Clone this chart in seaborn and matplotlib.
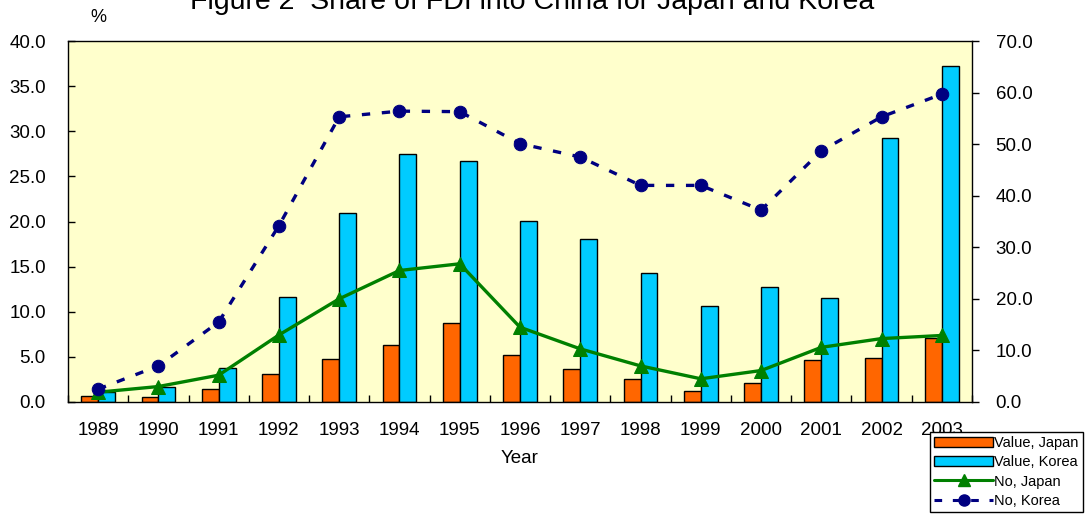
import numpy as np
import pandas as pd
import matplotlib
matplotlib.use('Agg')
import matplotlib.pyplot as plt
import seaborn as sns
from matplotlib.patches import Patch
from matplotlib.lines import Line2D

# data
years = ['1989', '1990', '1991', '1992', '1993', '1994', '1995', '1996',
         '1997', '1998', '1999', '2000', '2001', '2002', '2003']
value_japan = [0.7, 0.6, 1.4, 3.1, 4.8, 6.3, 8.8, 5.2, 3.7, 2.6, 1.2, 2.1, 4.6, 4.9, 7.1]
value_korea = [1.1, 1.7, 3.8, 11.6, 20.9, 27.5, 26.7, 20.1, 18.1, 14.3, 10.6, 12.7, 11.5, 29.3, 37.2]
no_japan = [1.9, 3.0, 5.2, 13.0, 20.0, 25.5, 26.8, 14.5, 10.3, 7.0, 4.5, 6.1, 10.6, 12.3, 12.9]
no_korea = [2.5, 7.0, 15.5, 34.2, 55.3, 56.4, 56.3, 50.1, 47.5, 42.0, 42.0, 37.2, 48.7, 55.3, 59.7]

left_ticks = [0, 5, 10, 15, 20, 25, 30, 35, 40]
right_ticks = [0, 10, 20, 30, 40, 50, 60, 70]

orange = '#FF6600'
cyan = '#00CCFF'
green = '#008000'
navy = '#000080'

sns.set_style('white')
plt.rcParams['font.family'] = ['Liberation Sans', 'DejaVu Sans']
plt.rcParams['text.color'] = 'black'
plt.rcParams['axes.labelcolor'] = 'black'
plt.rcParams['xtick.color'] = 'black'
plt.rcParams['ytick.color'] = 'black'

bars = pd.DataFrame({
    'Year': years * 2,
    'Value': value_japan + value_korea,
    'Country': ['Japan'] * len(years) + ['Korea'] * len(years),
})

fig, ax = plt.subplots(figsize=(10.88, 5.15), dpi=100)
plt.subplots_adjust(left=68/1088, right=972/1088, top=1-41/515, bottom=1-402/515)

# bars on the left axis
sns.barplot(data=bars, x='Year', y='Value', hue='Country', order=years,
            hue_order=['Japan', 'Korea'], palette={'Japan': orange, 'Korea': cyan},
            saturation=1, width=0.56, edgecolor='black', linewidth=1.0, ax=ax, legend=False)
ax.set_facecolor('#FFFFCC')
ax.set_ylim(0, 40)
ax.set_yticks(left_ticks)
ax.set_yticklabels(['%.1f' % t for t in left_ticks])
ax.set_xlim(-0.5, len(years) - 0.5)
ax.set_xlabel('Year', fontsize=13.5, labelpad=8)
ax.set_ylabel('')
ax.tick_params(axis='x', which='major', length=0, pad=14.5, labelsize=13.5)
ax.set_xticks(np.arange(len(years) + 1) - 0.5, minor=True)
ax.tick_params(axis='x', which='minor', direction='in', length=5, width=1, bottom=True)
ax.tick_params(axis='y', direction='in', length=5, width=1, pad=16, labelsize=13.5, left=True)
for s in ax.spines.values():
    s.set_color('black')
    s.set_linewidth(1.0)

# lines on the right axis
ax2 = ax.twinx()
pos = np.arange(len(years))
sns.lineplot(x=pos, y=no_japan, ax=ax2, color=green, linewidth=2.4, marker='^',
             markersize=10, markeredgecolor=green)
sns.lineplot(x=pos, y=no_korea, ax=ax2, color=navy, linewidth=2.4, linestyle=(0, (2.5, 3.5)),
             marker='o', markersize=9, markeredgecolor=navy)
ax2.set_ylim(0, 70)
ax2.set_yticks(right_ticks)
ax2.set_yticklabels(['%.1f' % t for t in right_ticks])
ax2.tick_params(axis='y', direction='out', length=5, width=1, pad=12, labelsize=13.5, right=True)
for s in ax2.spines.values():
    s.set_visible(False)

fig.text(532/1088, 1 - 9/515, 'Figure 2  Share of FDI into China for Japan and Korea',
         ha='center', va='baseline', fontsize=20.5)
fig.text(98/1088, 1 - 17/515, '%', ha='center', va='center', fontsize=13)

handles = [
    Patch(facecolor=orange, edgecolor='black', linewidth=1.0),
    Patch(facecolor=cyan, edgecolor='black', linewidth=1.0),
    Line2D([], [], color=green, linewidth=2.2, marker='^', markersize=8),
    Line2D([], [], color=navy, linewidth=2.2, linestyle=(0, (2.5, 3.5)), marker='o', markersize=8),
]
labels = ['Value, Japan', 'Value, Korea', 'No, Japan', 'No, Korea']
leg = fig.legend(handles, labels, loc='lower right', bbox_to_anchor=(1083/1088, 3/515),
                 fontsize=10.5, frameon=True, fancybox=False, edgecolor='black',
                 framealpha=1, handlelength=4.0, handleheight=0.7, labelspacing=0.35,
                 borderpad=0.3, handletextpad=0.1, borderaxespad=0)
leg.get_frame().set_linewidth(1.0)

plt.savefig('out.png', dpi=100)
plt.close()
